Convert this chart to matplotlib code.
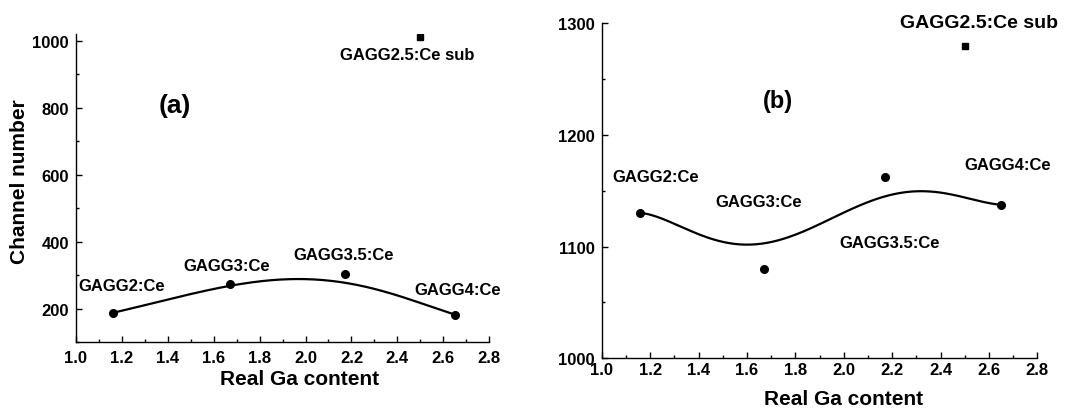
import numpy as np
import matplotlib
matplotlib.use("Agg")
import matplotlib.pyplot as plt
from matplotlib.ticker import MultipleLocator

plt.rcParams['font.family'] = ['Liberation Sans', 'DejaVu Sans']
plt.rcParams['font.weight'] = 'bold'

# Ga content of the four GAGG:Ce samples
ga = [1.16, 1.67, 2.17, 2.65]
names = ['GAGG2:Ce', 'GAGG3:Ce', 'GAGG3.5:Ce', 'GAGG4:Ce']

# (a) channel number of the photopeak
chan_a = [187, 272, 304, 182]
# (b) channel number
chan_b = [1130, 1080, 1162, 1137]

# substrate reference sample
sub_x = 2.5
sub_a = 1010
sub_b = 1279

# smooth guide curves through the points
curve_x_a = [1.16, 1.4, 1.67, 1.85, 2.0, 2.17, 2.4, 2.65]
curve_y_a = [187, 226, 270, 283, 286, 280, 238, 182]
curve_x_b = [1.16, 1.4, 1.6, 1.8, 2.0, 2.2, 2.33, 2.5, 2.65]
curve_y_b = [1130, 1112, 1100, 1111, 1132, 1145, 1149, 1145, 1137]

# label positions (data coords)
lab_a = [(1.20, 268), (1.657, 329), (2.165, 362), (2.662, 258)]
lab_b = [(1.223, 1163), (1.647, 1140), (2.188, 1104), (2.678, 1173)]


def smooth(xs, ys, deg):
    p = np.polyfit(xs, ys, deg)
    xx = np.linspace(xs[0], xs[-1], 200)
    return xx, np.polyval(p, xx)


def style_axes(ax):
    for s in ['top', 'right']:
        ax.spines[s].set_visible(False)
    for s in ['left', 'bottom']:
        ax.spines[s].set_linewidth(1.0)
    ax.tick_params(which='both', direction='in', labelsize=12)
    ax.tick_params(which='major', length=4, width=1.0)
    ax.tick_params(which='minor', length=2.5, width=1.0)
    ax.xaxis.set_major_locator(MultipleLocator(0.2))
    ax.xaxis.set_minor_locator(MultipleLocator(0.1))
    for lb in ax.get_xticklabels() + ax.get_yticklabels():
        lb.set_fontweight('bold')


fig = plt.figure(figsize=(10.79, 4.10), dpi=100)

# ---- panel (a)
ax1 = fig.add_axes([0.0702, 0.1634, 0.3833, 0.751])
xx, yy = smooth(curve_x_a, curve_y_a, 5)
ax1.plot(xx, yy, color='black', lw=1.6)
ax1.plot(ga, chan_a, 'o', color='black', ms=5.5)
ax1.plot(sub_x, sub_a, 's', color='black', ms=5)
ax1.set_xlim(1.0, 2.8)
ax1.set_ylim(100, 1020)
ax1.yaxis.set_major_locator(MultipleLocator(200))
ax1.yaxis.set_minor_locator(MultipleLocator(100))
ax1.set_yticks([200, 400, 600, 800, 1000])
style_axes(ax1)
ax1.tick_params(axis='x', pad=6)
ax1.tick_params(axis='y', pad=5)
for n, (tx, ty) in zip(names, lab_a):
    ax1.text(tx, ty, n, fontsize=12, fontweight='bold', ha='center', va='center')
ax1.text(2.443, 958, 'GAGG2.5:Ce sub', fontsize=12, fontweight='bold',
         ha='center', va='center', clip_on=False)
ax1.text(1.432, 808, '(a)', fontsize=19, fontweight='bold', ha='center', va='center')
ax1.set_xlabel('Real Ga content', fontsize=15, fontweight='bold')
ax1.xaxis.set_label_coords(0.54, -0.118)
ax1.xaxis.label.set_verticalalignment('center')
ax1.set_ylabel('Channel number', fontsize=15, fontweight='bold')
ax1.yaxis.set_label_coords(-0.137, 0.524)
ax1.yaxis.label.set_verticalalignment('center')

# ---- panel (b)
ax2 = fig.add_axes([0.5577, 0.1237, 0.4037, 0.8178])
xx, yy = smooth(curve_x_b, curve_y_b, 5)
ax2.plot(xx, yy, color='black', lw=1.6)
ax2.plot(ga, chan_b, 'o', color='black', ms=5.5)
ax2.plot(sub_x, sub_b, 's', color='black', ms=5)
ax2.set_xlim(1.0, 2.8)
ax2.set_ylim(1000, 1300)
ax2.yaxis.set_major_locator(MultipleLocator(100))
ax2.yaxis.set_minor_locator(MultipleLocator(50))
style_axes(ax2)
ax2.tick_params(axis='x', pad=3)
ax2.tick_params(axis='y', pad=5)
for n, (tx, ty) in zip(names, lab_b):
    ax2.text(tx, ty, n, fontsize=12, fontweight='bold', ha='center', va='center')
ax2.text(2.56, 1300, 'GAGG2.5:Ce sub', fontsize=14, fontweight='bold',
         ha='center', va='center', clip_on=False)
ax2.text(1.726, 1230.5, '(b)', fontsize=17, fontweight='bold', ha='center', va='center')
ax2.set_xlabel('Real Ga content', fontsize=15, fontweight='bold')
ax2.xaxis.set_label_coords(0.556, -0.119)
ax2.xaxis.label.set_verticalalignment('center')

fig.savefig('out.png', dpi=100)
